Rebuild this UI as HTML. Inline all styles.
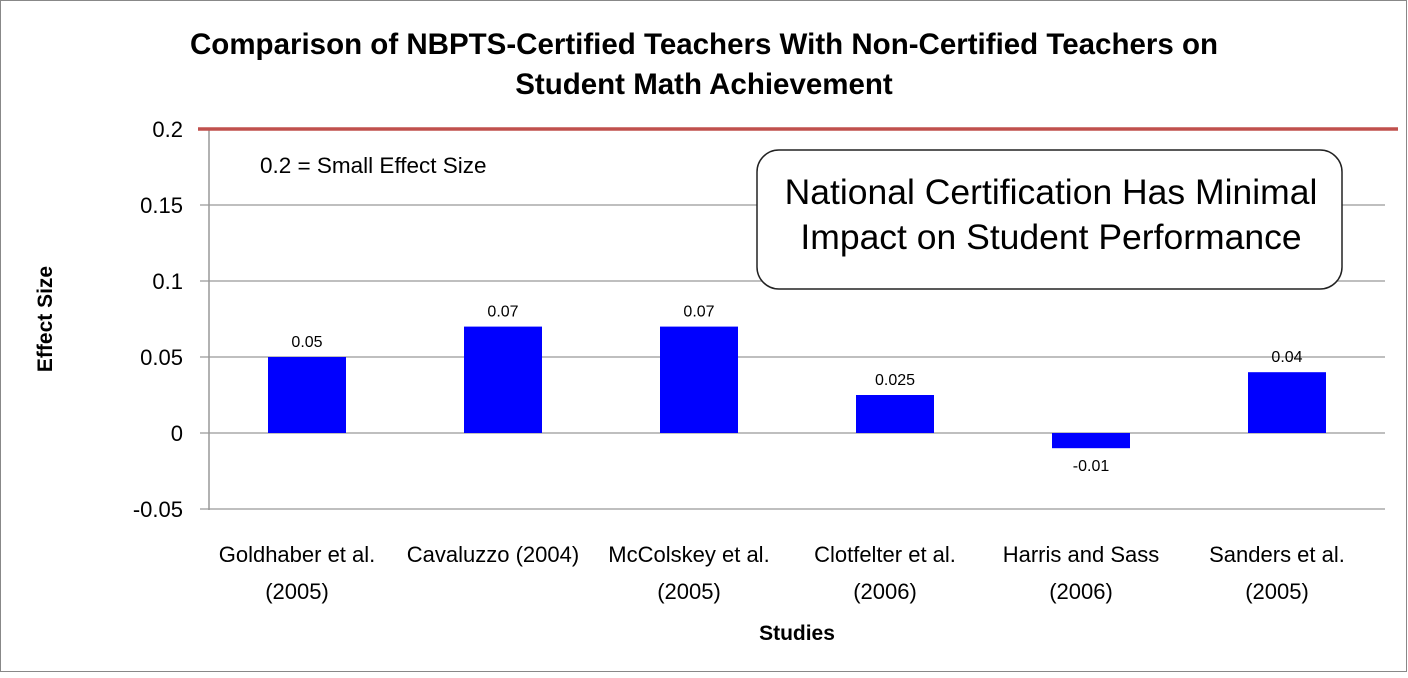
<!DOCTYPE html>
<html><head><meta charset="utf-8"><style>
html,body{margin:0;padding:0;background:#fff;}
body{width:1408px;height:673px;overflow:hidden;font-family:"Liberation Sans","DejaVu Sans",sans-serif;}
</style></head><body>
<svg id="chart" width="1408" height="673" xmlns="http://www.w3.org/2000/svg" font-family="'Liberation Sans','DejaVu Sans',sans-serif">
<rect x="0.5" y="0.5" width="1406" height="671" fill="#fff" stroke="#888" stroke-width="1"/>
<text x="704" y="54" text-anchor="middle" font-size="29.5" font-weight="bold">Comparison of NBPTS-Certified Teachers With Non-Certified Teachers on</text>
<text x="704" y="94" text-anchor="middle" font-size="29.5" font-weight="bold">Student Math Achievement</text>
<g id="grid"></g>
<g id="bars"></g>
<g id="yticks"></g>
<g id="xlabels"></g>
<line x1="209" y1="129" x2="209" y2="510" stroke="#999" stroke-width="1.5"/>
<line id="refline" x1="198" x2="1398" stroke="#c0504d" stroke-width="3.5"/>
<text x="260" y="173" font-size="22.5">0.2 = Small Effect Size</text>
<rect x="757" y="150" width="585" height="139" rx="22" ry="22" fill="#fff" stroke="#222" stroke-width="1.5"/>
<text x="1051" y="204" text-anchor="middle" font-size="35.5">National Certification Has Minimal</text>
<text x="1051" y="249" text-anchor="middle" font-size="35.5">Impact on Student Performance</text>
<text transform="translate(52,319) rotate(-90)" text-anchor="middle" font-size="21" font-weight="bold">Effect Size</text>
<text x="797" y="640" text-anchor="middle" font-size="21" font-weight="bold">Studies</text>
</svg>
<script>
const categories=[["Goldhaber et al.","(2005)"],["Cavaluzzo (2004)",""],["McColskey et al.","(2005)"],["Clotfelter et al.","(2006)"],["Harris and Sass","(2006)"],["Sanders et al.","(2005)"]];
const values=[0.05,0.07,0.07,0.025,-0.01,0.04];
const valueLabels=["0.05","0.07","0.07","0.025","-0.01","0.04"];
const yTicks=[0.2,0.15,0.1,0.05,0,-0.05];
const yTickLabels=["0.2","0.15","0.1","0.05","0","-0.05"];
const refValue=0.2;
const NS="http://www.w3.org/2000/svg";
const plotL=209,plotR=1385,y0=433,pxPerUnit=76/0.05;
function y(v){return y0-v*pxPerUnit;}
const band=(plotR-plotL)/categories.length;
function xc(i){return plotL+band*(i+0.5);}
function mk(t,a,p){const e=document.createElementNS(NS,t);for(const k in a)e.setAttribute(k,a[k]);p.appendChild(e);return e;}
const grid=document.getElementById('grid'),yt=document.getElementById('yticks'),bars=document.getElementById('bars'),xl=document.getElementById('xlabels');
yTicks.forEach((v,i)=>{
  const l=mk('line',{x1:200,x2:plotR,y1:y(v),y2:y(v),stroke:'#999','stroke-width':1.3},grid);
  
  
  const t=mk('text',{x:183,y:y(v)+8,'text-anchor':'end','font-size':22},yt);
  t.textContent=yTickLabels[i];
  
  
});
const rl=document.getElementById('refline');rl.setAttribute('y1',y(refValue));rl.setAttribute('y2',y(refValue));
values.forEach((v,i)=>{
  const w=78,top=Math.min(y(v),y(0)),h=Math.abs(y(v)-y(0));
  const r=mk('rect',{x:xc(i)-w/2,y:top,width:w,height:h,fill:'#0000ff'},bars);
  
  
  const ly=v>=0?y(v)-10:y(v)+23;
  const t=mk('text',{x:xc(i),y:ly,'text-anchor':'middle','font-size':16},bars);
  t.textContent=valueLabels[i];
  
  
  categories[i].forEach((s,j)=>{
    if(!s)return;
    const c=mk('text',{x:xc(i)-10,y:562+j*37,'text-anchor':'middle','font-size':22},xl);
    c.textContent=s;
    
    
  });
});
</script>
</body></html>
